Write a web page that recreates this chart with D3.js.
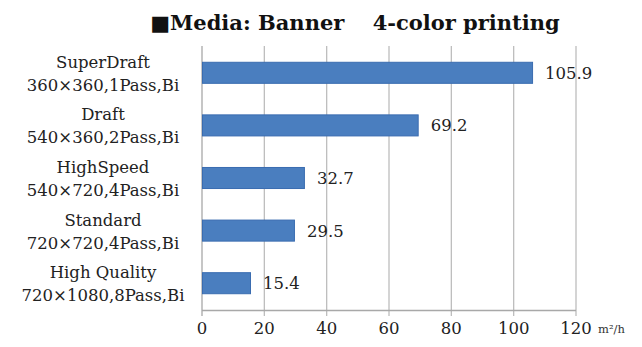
<!DOCTYPE html>
<html><head><meta charset="utf-8">
<script src="https://cdn.jsdelivr.net/npm/d3@7"></script>
<style>body{margin:0;background:#fff}svg{display:block}</style>
</head><body>
<script>
const categories = ["SuperDraft", "Draft", "HighSpeed", "Standard", "High Quality"];
const subLabels = ["360×360,1Pass,Bi", "540×360,2Pass,Bi", "540×720,4Pass,Bi", "720×720,4Pass,Bi", "720×1080,8Pass,Bi"];
const values = [105.9, 69.2, 32.7, 29.5, 15.4];
const ticks = [0, 20, 40, 60, 80, 100, 120];
const title = "■Media: Banner\u3000 4-color printing";
const unit = "m²/h";

const W = 642, H = 347;
const font = "'DejaVu Serif', 'Liberation Serif', serif";
const svg = d3.select("body").append("svg").attr("width", W).attr("height", H);

const x = d3.scaleLinear().domain([0, 120]).range([202, 576]);
const y = d3.scaleBand().domain(categories).range([46.5, 309.5]).paddingInner(0.6).paddingOuter(0.3);

// gridlines
svg.append("g").selectAll("line").data(ticks.slice(1)).join("line")
  .attr("x1", d => x(d)).attr("x2", d => x(d))
  .attr("y1", 46).attr("y2", 316)
  .attr("stroke", "#bdbdbd").attr("stroke-width", 1.3);
svg.append("line").attr("x1", x(0)).attr("x2", x(0)).attr("y1", 46).attr("y2", 316)
  .attr("stroke", "#a8a8a8").attr("stroke-width", 1.3);
svg.append("line").attr("x1", x(0)).attr("x2", x(120)).attr("y1", 310.5).attr("y2", 310.5)
  .attr("stroke", "#a8a8a8").attr("stroke-width", 1.3);

// bars
svg.append("g").selectAll("rect").data(values).join("rect")
  .attr("x", x(0) + 0.5)
  .attr("y", (d, i) => y(categories[i]))
  .attr("width", d => x(d) - x(0))
  .attr("height", y.bandwidth())
  .attr("fill", "#4a7ebf").attr("stroke", "#3a6cb0").attr("stroke-width", 1);

// value labels
svg.append("g").selectAll("text").data(values).join("text")
  .attr("x", d => x(d) + 13)
  .attr("y", (d, i) => y(categories[i]) + y.bandwidth() / 2 + 6)
  .attr("font-family", font).attr("font-size", 16.5).attr("fill", "#222")
  .text(d => d.toFixed(1));

// category labels
const lab = svg.append("g").selectAll("text").data(categories).join("text")
  .attr("text-anchor", "middle").attr("font-family", font).attr("font-size", 16.5).attr("fill", "#222");
lab.append("tspan").attr("x", 103).attr("y", d => y(d) + y.bandwidth() / 2 - 5).text(d => d);
lab.append("tspan").attr("x", 103).attr("y", d => y(d) + y.bandwidth() / 2 + 18).text((d, i) => subLabels[i]);

// tick labels
svg.append("g").selectAll("text").data(ticks).join("text")
  .attr("x", d => x(d)).attr("y", 334)
  .attr("text-anchor", "middle").attr("font-family", font).attr("font-size", 16.5).attr("fill", "#222")
  .text(d => d);
svg.append("text").attr("x", 598).attr("y", 333).attr("font-family", font).attr("font-size", 11.5)
  .attr("fill", "#333").text(unit);

// title
svg.append("text").attr("x", 355).attr("y", 30).attr("text-anchor", "middle")
  .attr("font-family", font).attr("font-size", 21).attr("font-weight", "bold").attr("fill", "#111")
  .text(title);
</script>
</body></html>
